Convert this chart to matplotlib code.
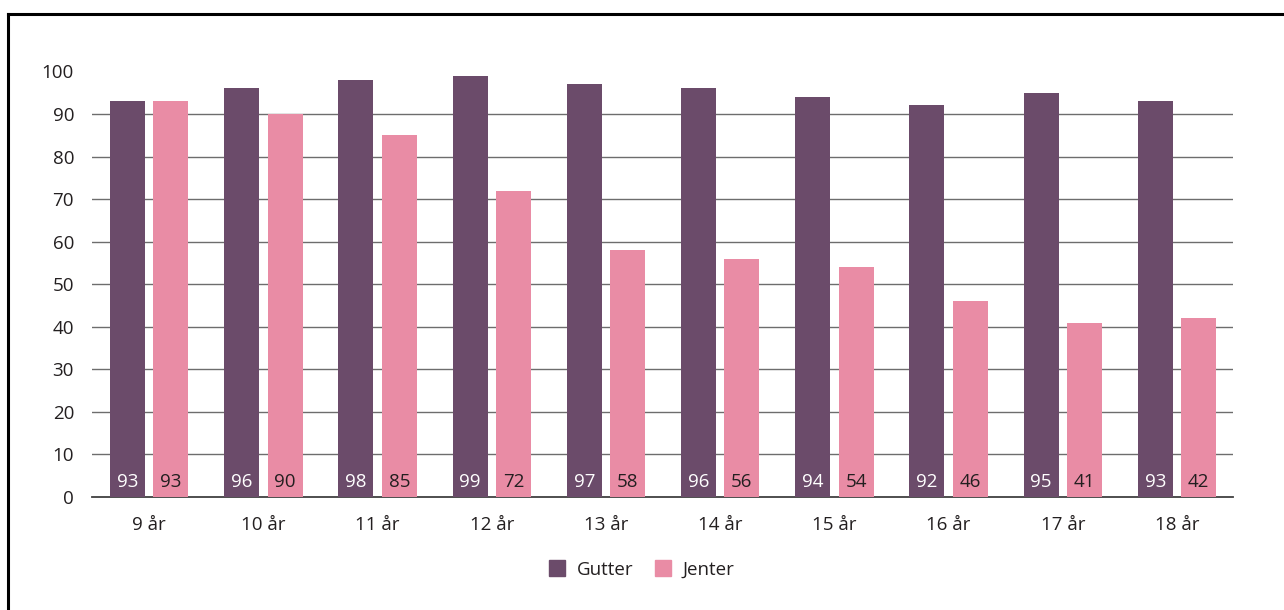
import matplotlib.pyplot as plt
import numpy as np
from matplotlib.lines import Line2D

plt.rcParams['font.family'] = ['Open Sans', 'DejaVu Sans']

categories = ['9 år', '10 år', '11 år', '12 år', '13 år', '14 år', '15 år', '16 år', '17 år', '18 år']
gutter = [93, 96, 98, 99, 97, 96, 94, 92, 95, 93]
jenter = [93, 90, 85, 72, 58, 56, 54, 46, 41, 42]

c_gutter = '#6b4b6a'
c_jenter = '#e98ca5'
txt = '#231f20'

fig = plt.figure(figsize=(12.84, 6.10), dpi=100)
ax = fig.add_axes([0.0717, 0.1852, 0.8886, 0.6978])

x = np.arange(len(categories))
w = 0.306
off = 0.19
ax.bar(x - off, gutter, w, color=c_gutter, zorder=3)
ax.bar(x + off, jenter, w, color=c_jenter, zorder=3)

# value labels near the bottom of the bars
for i in range(len(categories)):
    ax.text(x[i] - off, 3.5, str(gutter[i]), ha='center', va='center',
            color='white', fontsize=13.5, zorder=4)
    ax.text(x[i] + off, 3.5, str(jenter[i]), ha='center', va='center',
            color=txt, fontsize=13.5, zorder=4)

ax.set_xlim(-0.5, 9.49)
ax.set_ylim(0, 100)
ax.set_yticks(range(0, 101, 10))
ax.set_xticks(x)
ax.set_xticklabels(categories)
ax.tick_params(length=0, labelsize=13.5, labelcolor=txt)
ax.tick_params(axis='y', pad=13)
ax.tick_params(axis='x', pad=14)

for v in range(10, 100, 10):
    ax.axhline(v, color='#6d6d6d', lw=1.0, zorder=1)
for s in ['top', 'right', 'left']:
    ax.spines[s].set_visible(False)
ax.spines['bottom'].set_color('#404040')
ax.spines['bottom'].set_linewidth(1.3)

handles = [Line2D([], [], marker='s', ls='', markersize=11, color=c_gutter),
           Line2D([], [], marker='s', ls='', markersize=11, color=c_jenter)]
fig.legend(handles, ['Gutter', 'Jenter'], loc='center', bbox_to_anchor=(0.4955, 0.066),
           ncol=2, frameon=False, fontsize=13.5, handletextpad=0.05,
           columnspacing=0.55, labelcolor=txt)

# frame around the figure (only top and left visible in crop)
fig.add_artist(Line2D([8 / 1284, 8 / 1284], [0, 1 - 14 / 610], color='black', lw=2.2))
fig.add_artist(Line2D([8 / 1284, 1], [1 - 14 / 610, 1 - 14 / 610], color='black', lw=2.2))

fig.savefig('out.png', dpi=100)
